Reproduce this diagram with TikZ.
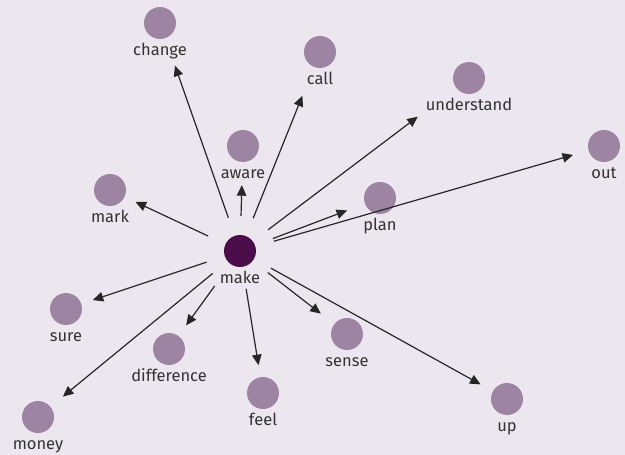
\documentclass[tikz,border=0pt]{standalone}
\usepackage{fontspec}
\setmainfont{Fira Sans}
\usepackage{xcolor}
\usepackage{tikz}
\usetikzlibrary{arrows.meta, positioning}

\definecolor{bgcol}{HTML}{ECE7EE}
\definecolor{dotcol}{HTML}{9D84A3}
\definecolor{hubcol}{HTML}{4B0D49}
\definecolor{wordcol}{HTML}{333333}

\begin{document}
\begin{tikzpicture}[x=1pt, y=-1pt]
		
		\tikzset{
			worddot/.style={circle, fill=dotcol, minimum size=32pt, inner sep=0pt},
			hubdot/.style={circle, fill=hubcol, minimum size=32pt, inner sep=0pt},
			wordtext/.style={anchor=base, text=wordcol, inner sep=0pt, font=\fontsize{16.5}{19}\selectfont},
			link/.style={-{Triangle[length=10.5pt, width=9.5pt]}, line width=1.2pt, draw=black!85, shorten <=19pt},
		}
		
		\fill [bgcol] (0,0) rectangle (625,455);
		\useasboundingbox (0,0) rectangle (625,455);
		
		% the dots
		\node [hubdot] (make) at (240,251) {};
		\node [worddot] (change) at (160,23) {};
		\node [worddot] (call) at (320,52) {};
		\node [worddot] (understand) at (469,78) {};
		\node [worddot] (out) at (604,146) {};
		\node [worddot] (aware) at (243,146) {};
		\node [worddot] (mark) at (110,190) {};
		\node [worddot] (plan) at (380,198) {};
		\node [worddot] (sure) at (66,309) {};
		\node [worddot] (difference) at (169,349) {};
		\node [worddot] (feel) at (263,393) {};
		\node [worddot] (sense) at (347,334) {};
		\node [worddot] (up) at (507,399) {};
		\node [worddot] (money) at (38,417) {};
		
		% the words
		\node [wordtext] (make-t) at (240,283) {make};
		\node [wordtext] (change-t) at (160,55) {change};
		\node [wordtext] (call-t) at (320,84) {call};
		\node [wordtext] (understand-t) at (469,110) {understand};
		\node [wordtext] (out-t) at (604,178) {out};
		\node [wordtext] (aware-t) at (243,178) {aware};
		\node [wordtext] (mark-t) at (110,222) {mark};
		\node [wordtext] (plan-t) at (380,230) {plan};
		\node [wordtext] (sure-t) at (66,341) {sure};
		\node [wordtext] (difference-t) at (169,381) {difference};
		\node [wordtext] (feel-t) at (263,425) {feel};
		\node [wordtext] (sense-t) at (347,366) {sense};
		\node [wordtext] (up-t) at (507,431) {up};
		\node [wordtext] (money-t) at (38,449) {money};
		
		% the arrows
		\draw [link, shorten >=29pt] (make) -- (change);
		\draw [link, shorten >=23pt] (make) -- (aware);
		\draw [link, shorten >=31pt] (make) -- (call);
		\draw [link, shorten >=48pt] (make) -- (understand);
		\draw [link, shorten >=19pt] (make) -- (plan);
		\draw [link, shorten >=16pt] (make) -- (out);
		\draw [link, shorten >=12pt] (make) -- (mark);
		\draw [link, shorten >=12pt] (make) -- (sure);
		\draw [link, shorten >=16pt] (make) -- (money);
		\draw [link, shorten <=27pt, shorten >=13pt] (make) -- (difference);
		\draw [link, shorten <=22pt, shorten >=12pt] (make) -- (feel);
		\draw [link, shorten >=17pt] (make) -- (sense);
		\draw [link, shorten >=14pt] (make) -- (up);
		\end{tikzpicture}
\end{document}
